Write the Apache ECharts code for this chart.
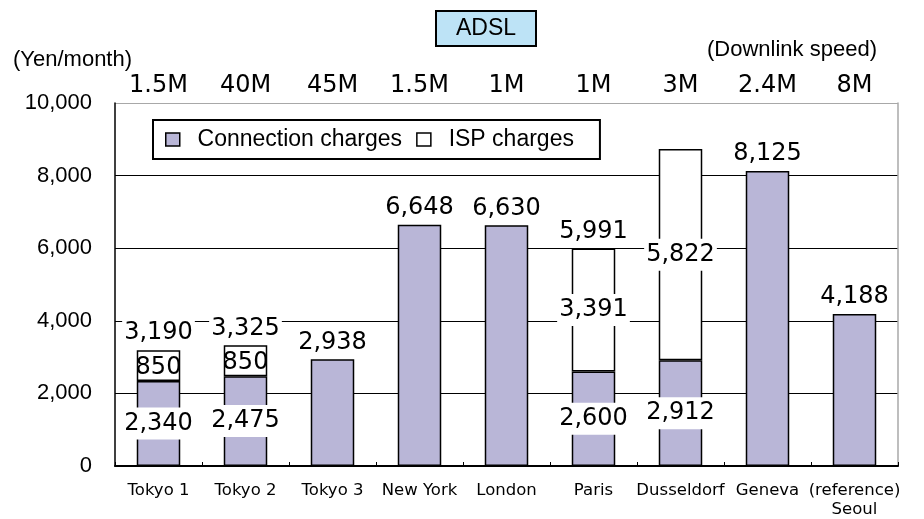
<!DOCTYPE html>
<html>
<head>
<meta charset="utf-8">
<script src="https://cdn.jsdelivr.net/npm/echarts@6/dist/echarts.min.js"></script>
<style>html,body{margin:0;padding:0;background:#fff;}#c{width:924px;height:519px;}</style>
</head>
<body>
<div id="c"></div>
<script>
var categories = ['Tokyo 1', 'Tokyo 2', 'Tokyo 3', 'New York', 'London', 'Paris', 'Dusseldorf', 'Geneva', '(reference)\nSeoul'];
var speeds = ['1.5M', '40M', '45M', '1.5M', '1M', '1M', '3M', '2.4M', '8M'];
var connectionCharges = [2340, 2475, 2938, 6648, 6630, 2600, 2912, 8125, 4188];
var ispCharges = [850, 850, null, null, null, 3391, 5822, null, null];
var totalLabels = [3190, 3325, null, null, null, 5991, null, null, null];
var yTicks = [0, 2000, 4000, 6000, 8000, 10000];

var fmt = function (v) { return Number(v).toLocaleString('en-US'); };
var labelBase = {
  show: true, color: '#000', opacity: 1, fontFamily: 'DejaVu Sans', fontSize: 24,
  backgroundColor: '#fff', padding: [4, 2], distance: 1,
  formatter: function (p) { return fmt(p.value); }
};

var chart = echarts.init(document.getElementById('c'));
chart.setOption({
  animation: false,
  backgroundColor: '#fff',
  title: {
    text: 'ADSL', left: 436, top: 11,
    backgroundColor: '#bde3f6', borderColor: '#000', borderWidth: 2,
    padding: [6, 20],
    textStyle: { fontFamily: 'Liberation Sans', fontSize: 23, fontWeight: 'normal', color: '#000' }
  },
  legend: {
    left: 153, top: 120,
    data: ['Connection charges', 'ISP charges'],
    icon: 'rect', itemWidth: 14, itemHeight: 13, itemGap: 14,
    padding: [8, 26, 8, 12],
    borderColor: '#000', borderWidth: 2, backgroundColor: '#fff',
    itemStyle: { borderColor: '#000', borderWidth: 1.5 },
    formatter: function (n) { return '  ' + n; },
    textStyle: { fontFamily: 'Liberation Sans', fontSize: 23, color: '#000' }
  },
  graphic: [
    { type: 'text', left: 13, top: 49, style: { text: '(Yen/month)', font: '22px "Liberation Sans"', fill: '#000' } },
    { type: 'text', left: 707, top: 39, style: { text: '(Downlink speed)', font: '22px "Liberation Sans"', fill: '#000' } }
  ],
  grid: { left: 115, right: 26, top: 103, bottom: 51 },
  xAxis: [
    {
      type: 'category', data: categories, position: 'bottom',
      axisLine: { lineStyle: { color: '#000', width: 2 } },
      axisTick: { show: true, inside: true, length: 4, lineStyle: { color: '#000' } },
      axisLabel: { color: '#000', fontFamily: 'DejaVu Sans', fontSize: 16.5, margin: 15, lineHeight: 19, interval: 0 }
    },
    {
      type: 'category', data: speeds, position: 'top',
      axisLine: { show: false }, axisTick: { show: false },
      axisLabel: { color: '#000', fontFamily: 'DejaVu Sans', fontSize: 24, margin: 5, interval: 0 }
    }
  ],
  yAxis: [
    {
      type: 'value', min: yTicks[0], max: yTicks[yTicks.length - 1], interval: 2000,
      axisLine: { show: true, lineStyle: { color: '#000', width: 1.5 } },
      axisTick: { show: false },
      axisLabel: { color: '#000', fontFamily: 'Liberation Sans', fontSize: 22, margin: 23, formatter: function (v) { return fmt(v); } },
      splitLine: { show: true, lineStyle: { color: ['#000', '#000', '#000', '#000', '#000', '#a8a8a8'], width: 1.2 } }
    },
    {
      type: 'value', min: yTicks[0], max: yTicks[yTicks.length - 1], interval: 2000, position: 'right',
      axisLine: { show: true, lineStyle: { color: '#a8a8a8', width: 1.5 } },
      axisTick: { show: false }, axisLabel: { show: false }, splitLine: { show: false }
    }
  ],
  series: [
    {
      name: 'Connection charges', type: 'bar', stack: 'a', barWidth: '50%',
      itemStyle: { color: '#b9b6d7', borderColor: '#000', borderWidth: 1.5 },
      label: labelBase,
      data: connectionCharges.map(function (v, i) {
        return { value: v, label: { position: ispCharges[i] ? 'inside' : 'top' } };
      }),
      z: 3
    },
    {
      name: 'ISP charges', type: 'bar', stack: 'a', barWidth: '50%',
      itemStyle: { color: '#fff', borderColor: '#000', borderWidth: 1.5 },
      label: Object.assign({}, labelBase, { position: 'inside' }),
      data: ispCharges.map(function (v) {
        return v == null ? null : { value: v, label: v < 1000 ? { backgroundColor: 'transparent', offset: [0, 2] } : {} };
      }),
      z: 3
    },
    {
      name: 'Total', type: 'scatter', symbolSize: 0, silent: true,
      itemStyle: { opacity: 1 },
      label: Object.assign({}, labelBase, { position: 'top' }),
      data: totalLabels,
      z: 5
    }
  ]
});
</script>
</body>
</html>
